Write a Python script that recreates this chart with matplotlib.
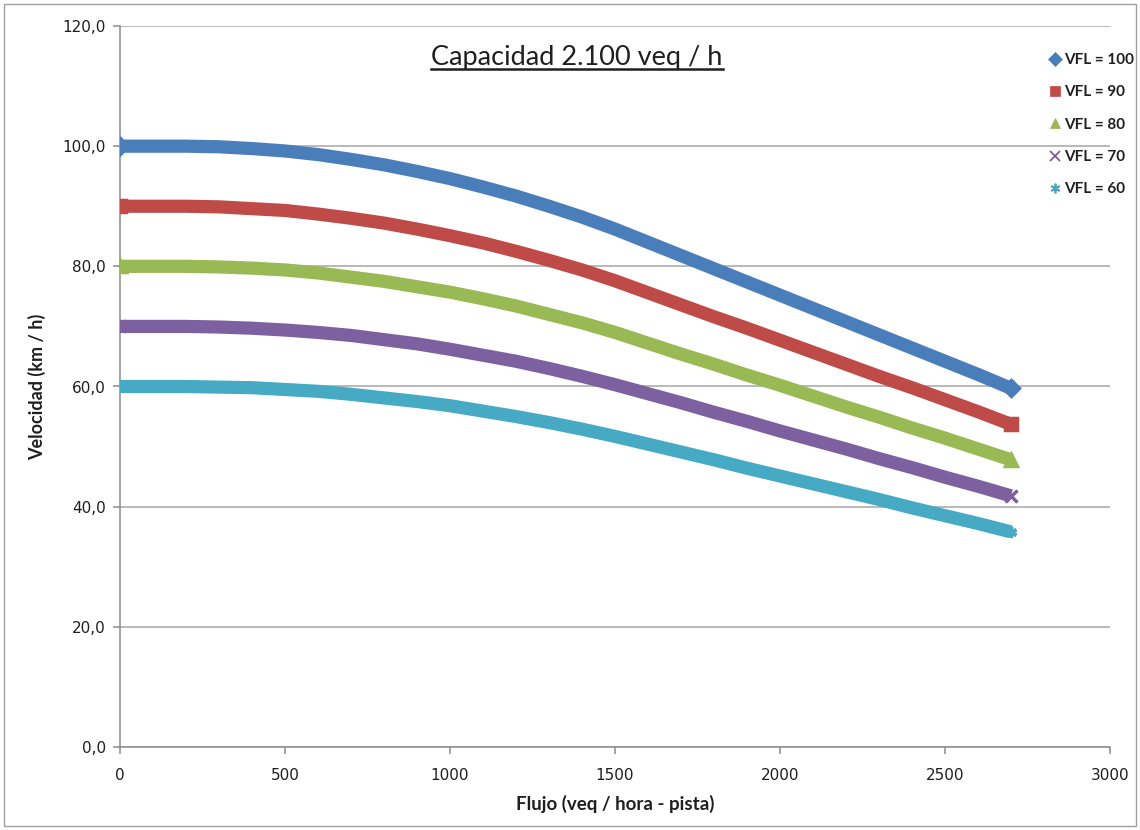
import matplotlib
matplotlib.use("Agg")
import matplotlib.pyplot as plt
from matplotlib.lines import Line2D
from matplotlib.patches import Rectangle
from matplotlib.ticker import FuncFormatter

# Flow (veq / hora - pista) and speed (km/h) for each free-flow speed
flujo = [0, 100, 200, 300, 400, 500, 600, 700, 800, 900, 1000, 1100, 1200, 1300,
         1400, 1500, 1600, 1700, 1800, 1900, 2000, 2100, 2200, 2300, 2400, 2500,
         2600, 2700]
vfl_100 = [100.0, 100.0, 100.0, 99.9, 99.6, 99.2, 98.6, 97.8, 96.9, 95.8, 94.6, 93.2,
           91.7, 90.0, 88.2, 86.2, 84.0, 81.8, 79.6, 77.4, 75.2, 73.0, 70.8, 68.6,
           66.4, 64.2, 62.0, 59.7]
vfl_90 = [90.0, 90.0, 90.0, 89.9, 89.6, 89.3, 88.7, 88.0, 87.2, 86.2, 85.1, 83.9,
          82.5, 81.0, 79.4, 77.6, 75.6, 73.6, 71.6, 69.7, 67.7, 65.7, 63.7, 61.7,
          59.8, 57.8, 55.8, 53.7]
vfl_80 = [80.0, 80.0, 80.0, 79.9, 79.7, 79.4, 78.9, 78.2, 77.5, 76.6, 75.7, 74.6,
          73.4, 72.0, 70.6, 69.0, 67.2, 65.4, 63.7, 61.9, 60.2, 58.4, 56.6, 54.9,
          53.1, 51.4, 49.6, 47.8]
vfl_70 = [70.0, 70.0, 70.0, 69.9, 69.7, 69.4, 69.0, 68.5, 67.8, 67.1, 66.2, 65.2,
          64.2, 63.0, 61.7, 60.3, 58.8, 57.3, 55.7, 54.2, 52.6, 51.1, 49.6, 48.0,
          46.5, 44.9, 43.4, 41.8]
vfl_60 = [60.0, 60.0, 60.0, 59.9, 59.8, 59.5, 59.2, 58.7, 58.1, 57.5, 56.8, 55.9,
          55.0, 54.0, 52.9, 51.7, 50.4, 49.1, 47.8, 46.4, 45.1, 43.8, 42.5, 41.2,
          39.8, 38.5, 37.2, 35.8]

series_labels = ["VFL = 100", "VFL = 90", "VFL = 80", "VFL = 70", "VFL = 60"]
title_text = "Capacidad 2.100 veq / h"
x_ticks = [0, 500, 1000, 1500, 2000, 2500, 3000]
y_ticks = [0, 20, 40, 60, 80, 100, 120]

colors = ["#4A7EBB", "#BE4B48", "#98B954", "#7D60A0", "#46AAC5"]
markers = ["D", "s", "^", "x", (6, 2, 0)]

plt.rcParams["font.family"] = ["Lato", "DejaVu Sans"]

fig = plt.figure(figsize=(11.4, 8.3), dpi=100)
ax = fig.add_axes([120 / 1140, 1 - 747 / 830, 990 / 1140, 721 / 830])

for ys, c, m in zip([vfl_100, vfl_90, vfl_80, vfl_70, vfl_60], colors, markers):
    ax.plot(flujo, ys, color=c, lw=9.5, solid_capstyle="butt", solid_joinstyle="round",
            zorder=3)
    ax.plot(flujo, ys, color=c, lw=0, marker=m, markersize=8,
            markevery=[0, len(flujo) - 1], markeredgecolor=c, markerfacecolor=c,
            markeredgewidth=2.5, zorder=4)

ax.set_xlim(0, 3000)
ax.set_ylim(0, 120)
ax.set_xticks(x_ticks)
ax.set_yticks(y_ticks)
ax.yaxis.set_major_formatter(FuncFormatter(lambda v, p: f"{v:.1f}".replace(".", ",")))
ax.xaxis.set_major_formatter(FuncFormatter(lambda v, p: f"{int(v)}"))

ax.grid(axis="y", color="#A6A6A6", lw=1.1, zorder=1)
ax.set_axisbelow(True)
for s in ("top", "right"):
    ax.spines[s].set_visible(False)
for s in ("left", "bottom"):
    ax.spines[s].set_color("#8C8C8C")
    ax.spines[s].set_linewidth(1.1)
ax.tick_params(axis="both", colors="#8C8C8C", length=5, width=1.1,
               labelcolor="#1F1F1F")
for lbl in ax.get_xticklabels() + ax.get_yticklabels():
    lbl.set_fontfamily(["DejaVu Sans"])
    lbl.set_fontsize(11)
ax.tick_params(axis="y", pad=5)
ax.tick_params(axis="x", pad=10)

ax.set_xlabel("Flujo (veq / hora - pista)", fontsize=13.5, fontweight="bold",
              color="#1F1F1F", labelpad=9)
ax.set_ylabel("Velocidad (km / h)", fontsize=13, fontweight="bold",
              color="#1F1F1F", labelpad=12)

# Title with underline
t = fig.text(577 / 1140, 1 - 58 / 830, title_text, ha="center", va="center",
             fontsize=19.5, color="#1F1F1F")
fig.canvas.draw()
bb = t.get_window_extent(renderer=fig.canvas.get_renderer())
inv = fig.transFigure.inverted()
(x0, y0), (x1, y1) = inv.transform([(bb.x0, bb.y0), (bb.x1, bb.y0)])
fig.add_artist(Line2D([x0, x1], [y0 + 0.002, y0 + 0.002], transform=fig.transFigure,
                      color="#1F1F1F", lw=1.8))

# Legend
handles = [Line2D([], [], color=c, marker=m, lw=0, markersize=7,
                  markeredgewidth=1.3 if m in ("x", (6, 2, 0)) else 0.5,
                  markeredgecolor=c, markerfacecolor=c)
           for c, m in zip(colors, markers)]
fig.legend(handles, series_labels, loc="upper left",
           bbox_to_anchor=(1050 / 1140, 1 - 53 / 830), frameon=False,
           prop={"size": 11, "weight": "bold"}, labelcolor="#1F1F1F",
           handlelength=0.6, handletextpad=0.35, labelspacing=1.2,
           borderaxespad=0, borderpad=0)

# Chart border
fig.add_artist(Rectangle((4 / 1140, 4 / 830), 1 - 8 / 1140, 1 - 8 / 830,
                         transform=fig.transFigure, fill=False,
                         edgecolor="#A0A0A0", lw=1))

fig.savefig("out.png", dpi=100)
